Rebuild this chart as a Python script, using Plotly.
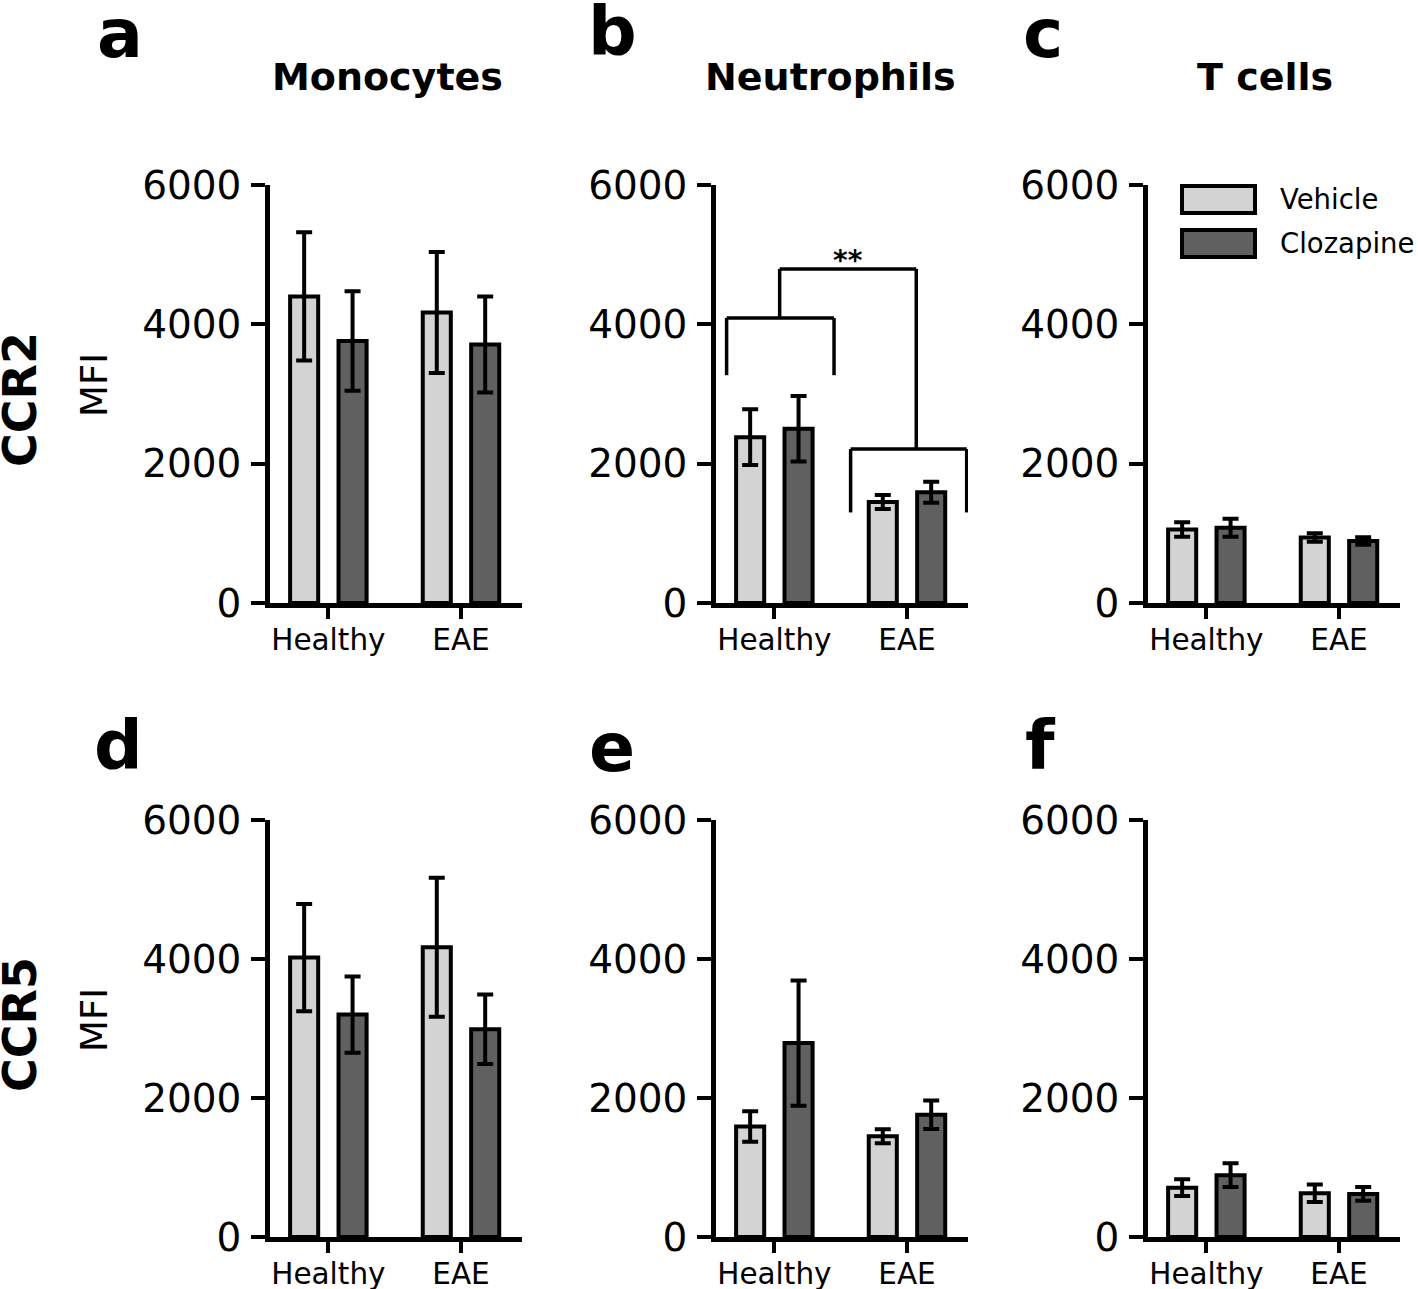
import plotly.graph_objects as go

# categories and groups
groups = ["Healthy", "EAE"]
treatments = ["Vehicle", "Clozapine"]
bar_colors = ["#d3d3d3", "#606060"]

# CCR2 row (MFI, mean and SEM)
mono_ccr2_veh = [4400, 4170]
mono_ccr2_veh_err = [920, 870]
mono_ccr2_cloz = [3760, 3710]
mono_ccr2_cloz_err = [715, 690]

neut_ccr2_veh = [2380, 1450]
neut_ccr2_veh_err = [400, 100]
neut_ccr2_cloz = [2500, 1590]
neut_ccr2_cloz_err = [470, 150]

tcell_ccr2_veh = [1055, 940]
tcell_ccr2_veh_err = [105, 60]
tcell_ccr2_cloz = [1080, 890]
tcell_ccr2_cloz_err = [130, 55]

# CCR5 row
mono_ccr5_veh = [4020, 4170]
mono_ccr5_veh_err = [770, 1000]
mono_ccr5_cloz = [3200, 2990]
mono_ccr5_cloz_err = [550, 500]

neut_ccr5_veh = [1590, 1450]
neut_ccr5_veh_err = [220, 100]
neut_ccr5_cloz = [2790, 1760]
neut_ccr5_cloz_err = [900, 205]

tcell_ccr5_veh = [710, 630]
tcell_ccr5_veh_err = [120, 125]
tcell_ccr5_cloz = [890, 620]
tcell_ccr5_cloz_err = [170, 100]

y_ticks = [0, 2000, 4000, 6000]
panel_letters = ["a", "b", "c", "d", "e", "f"]
col_titles = ["Monocytes", "Neutrophils", "T cells"]
row_titles = ["CCR2", "CCR5"]

# significance bracket in panel b (heights in MFI)
sig_healthy_top = 4090
sig_healthy_leg = 3270
sig_eae_top = 2210
sig_eae_leg = 1300
sig_joint_top = 4795
sig_label = "**"

W, H = 1418, 1289
FONT = "DejaVu Sans"

def px(x):
    return x / W

def py(y):
    return 1 - y / H

panels = [
    (mono_ccr2_veh, mono_ccr2_veh_err, mono_ccr2_cloz, mono_ccr2_cloz_err),
    (neut_ccr2_veh, neut_ccr2_veh_err, neut_ccr2_cloz, neut_ccr2_cloz_err),
    (tcell_ccr2_veh, tcell_ccr2_veh_err, tcell_ccr2_cloz, tcell_ccr2_cloz_err),
    (mono_ccr5_veh, mono_ccr5_veh_err, mono_ccr5_cloz, mono_ccr5_cloz_err),
    (neut_ccr5_veh, neut_ccr5_veh_err, neut_ccr5_cloz, neut_ccr5_cloz_err),
    (tcell_ccr5_veh, tcell_ccr5_veh_err, tcell_ccr5_cloz, tcell_ccr5_cloz_err),
]

# pixel positions of the axes boxes
col_x = [(270, 522), (716, 968), (1148, 1400)]
row_y = [(185, 603), (820, 1237)]

fig = go.Figure()

for i, (veh, veh_err, cloz, cloz_err) in enumerate(panels):
    n = "" if i == 0 else str(i + 1)
    for vals, errs, name, col in [(veh, veh_err, treatments[0], bar_colors[0]),
                                  (cloz, cloz_err, treatments[1], bar_colors[1])]:
        fig.add_trace(go.Bar(
            x=groups, y=vals, name=name,
            marker=dict(color=col, line=dict(color="black", width=4)),
            error_y=dict(type="data", array=errs, visible=True,
                         color="black", thickness=4, width=8),
            xaxis="x" + n, yaxis="y" + n,
            showlegend=False))

layout_axes = {}
for i in range(6):
    r, c = divmod(i, 3)
    n = "" if i == 0 else str(i + 1)
    x0, x1 = col_x[c]
    ytop, ybot = row_y[r]
    layout_axes["xaxis" + n] = dict(
        domain=[px(x0), px(x1)], anchor="y" + n, automargin=False,
        type="category", categoryorder="array", categoryarray=groups,
        range=[-0.44, 1.46],
        showline=True, linecolor="black", linewidth=4.5,
        ticks="outside", ticklen=11, tickwidth=4, tickcolor="black",
        tickfont=dict(family=FONT, size=29.5, color="black"),
        ticklabelstandoff=-4,
        showgrid=False, zeroline=False, fixedrange=True)
    layout_axes["yaxis" + n] = dict(
        domain=[py(ybot), py(ytop)], anchor="x" + n, automargin=False,
        range=[0, 6000], tickvals=y_ticks,
        showline=True, linecolor="black", linewidth=4.5,
        ticks="outside", ticklen=14, tickwidth=4, tickcolor="black",
        tickfont=dict(family=FONT, size=39, color="black"),
        ticklabelstandoff=2,
        showgrid=False, zeroline=False, fixedrange=True)

fig.update_layout(**layout_axes)

annotations = []
letter_pos = [(120, 33), (612, 31), (1043, 33), (118, 745), (612, 747), (1040, 745)]
for letter, (lx, ly) in zip(panel_letters, letter_pos):
    annotations.append(dict(text=letter, x=px(lx), y=py(ly), xref="paper", yref="paper",
                            showarrow=False, xanchor="center", yanchor="middle",
                            font=dict(family=FONT, size=68, color="black", weight="bold")))

title_x = [387, 830, 1265]
for t, tx in zip(col_titles, title_x):
    annotations.append(dict(text=t, x=px(tx), y=py(77), xref="paper", yref="paper",
                            showarrow=False, xanchor="center", yanchor="middle",
                            font=dict(family=FONT, size=38, color="black", weight="bold")))

row_center = [400, 1025]
mfi_center = [385, 1020]
for t, ry, my in zip(row_titles, row_center, mfi_center):
    annotations.append(dict(text=t, x=px(20), y=py(ry), xref="paper", yref="paper",
                            showarrow=False, textangle=-90, xanchor="center", yanchor="middle",
                            borderpad=0,
                            font=dict(family=FONT, size=46, color="black", weight="bold")))
    annotations.append(dict(text="MFI", x=px(94), y=py(my), xref="paper", yref="paper",
                            showarrow=False, textangle=-90, xanchor="center", yanchor="middle",
                            font=dict(family=FONT, size=37, color="black")))

# legend (drawn in panel c)
shapes = []
leg_items = [(treatments[0], bar_colors[0], 186, 213), (treatments[1], bar_colors[1], 230, 257)]
for name, col, y0, y1 in leg_items:
    shapes.append(dict(type="rect", xref="paper", yref="paper",
                       x0=px(1182), x1=px(1255), y0=py(y1), y1=py(y0),
                       fillcolor=col, line=dict(color="black", width=4)))
    annotations.append(dict(text=name, x=px(1278), y=py((y0 + y1) / 2), xref="paper", yref="paper",
                            showarrow=False, xanchor="left", yanchor="middle",
                            font=dict(family=FONT, size=27.5, color="black")))

# significance brackets in panel b
def seg(xa, ya, xb, yb):
    return dict(type="line", xref="x2", yref="y2", x0=xa, y0=ya, x1=xb, y1=yb,
                line=dict(color="black", width=3.5))

hl, hr = -0.36, 0.45
el, er = 0.575, 1.45
jl, jr = 0.04, 1.07
shapes += [
    seg(hl, sig_healthy_leg, hl, sig_healthy_top),
    seg(hl, sig_healthy_top, hr, sig_healthy_top),
    seg(hr, sig_healthy_top, hr, sig_healthy_leg),
    seg(el, sig_eae_leg, el, sig_eae_top),
    seg(el, sig_eae_top, er, sig_eae_top),
    seg(er, sig_eae_top, er, sig_eae_leg),
    seg(jl, sig_healthy_top, jl, sig_joint_top),
    seg(jl, sig_joint_top, jr, sig_joint_top),
    seg(jr, sig_joint_top, jr, sig_eae_top),
]
annotations.append(dict(text=sig_label, x=(jl + jr) / 2, y=sig_joint_top, xref="x2", yref="y2",
                        showarrow=False, xanchor="center", yanchor="bottom", yshift=-10,
                        font=dict(family=FONT, size=28, color="black", weight="bold")))

fig.update_layout(
    width=W, height=H,
    margin=dict(l=0, r=0, t=0, b=0),
    paper_bgcolor="white", plot_bgcolor="white",
    barmode="group", bargap=0.27, bargroupgap=0.42,
    font=dict(family=FONT, color="black"),
    annotations=annotations, shapes=shapes,
    showlegend=False,
)

# drop the default page margin so the figure sits at the window's corner
fig.write_html("out.html", config={"displayModeBar": False},
               post_script="document.body.style.margin='0px';")
